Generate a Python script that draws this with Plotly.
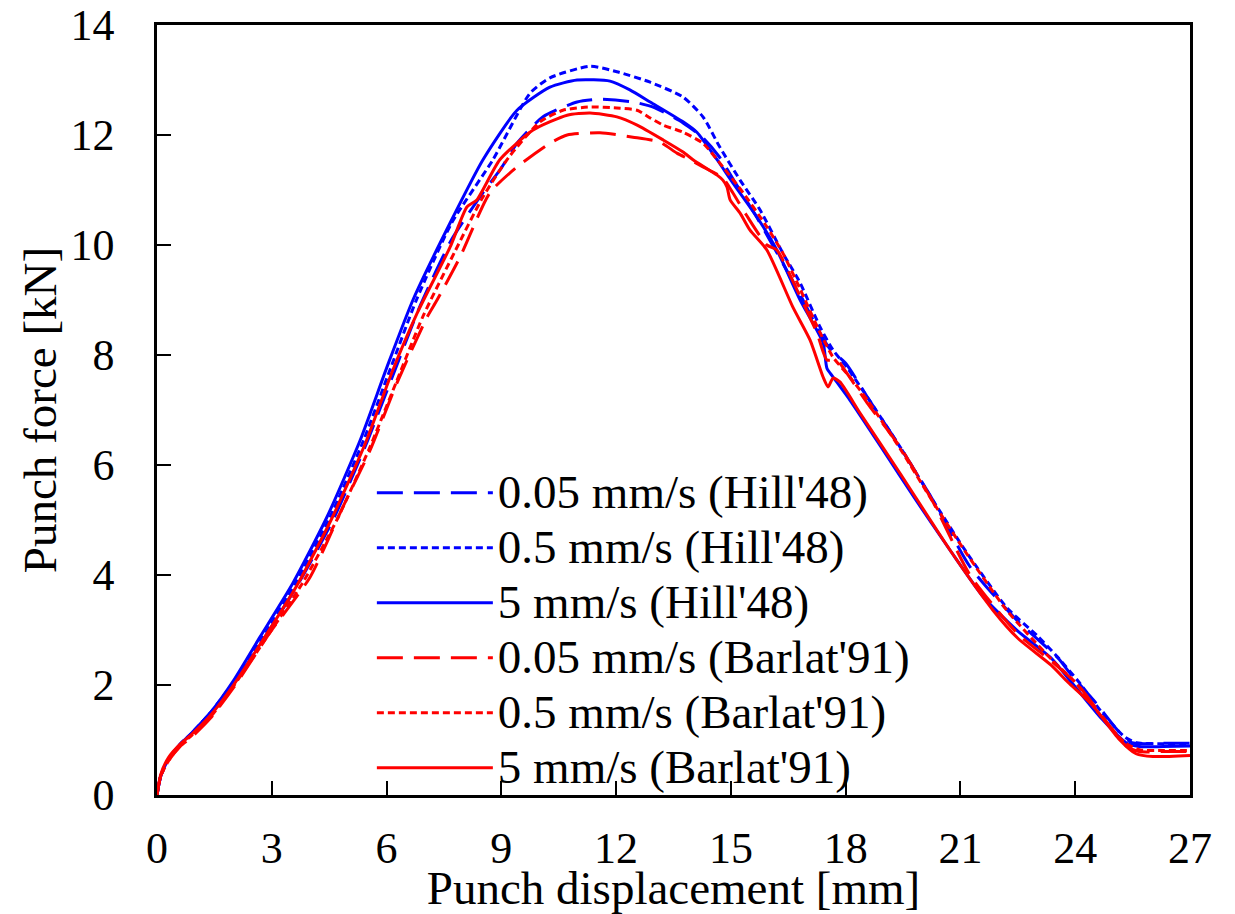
import plotly.graph_objects as go

# ---------------- data ----------------
hill_005_x = [0, 0.1, 0.3, 0.6, 0.9, 1.4, 2.0, 2.8, 3.7, 4.6, 5.45, 6.15, 6.85, 7.7, 8.52, 9.0, 9.41, 10.09, 10.98, 11.58,
              12.44, 13.0, 13.75, 14.27, 14.7, 15.1, 15.68, 16.25, 16.81, 17.33, 17.6, 18.0, 18.6, 19.42, 20.28, 21.25,
              22.5, 23.55, 23.9, 24.52, 25.14, 25.48, 26.3, 27]
hill_005_y = [0, 0.35, 0.65, 0.92, 1.12, 1.5, 2.02, 2.85, 3.85, 5.0, 6.35, 7.6, 8.85, 10.1, 10.95, 11.4, 11.85, 12.33, 12.6, 12.65,
              12.6, 12.5, 12.22, 11.95, 11.6, 11.15, 10.5, 9.8, 9.1, 8.4, 8.1, 7.85, 7.2, 6.33, 5.36, 4.15,
              3.16, 2.49, 2.18, 1.69, 1.15, 0.95, 0.94, 0.94]

hill_05_x = [0, 0.1, 0.3, 0.6, 0.9, 1.4, 2.0, 2.75, 3.62, 4.52, 5.4, 6.1, 6.78, 7.7, 8.78, 9.75, 10.27, 11.32, 12.02, 12.89,
             13.75, 14.27, 14.71, 15.24, 15.76, 16.36, 16.81, 17.33, 17.67, 18.03, 18.56, 19.42, 20.28, 21.17, 22.22,
             23.0, 23.55, 24.1, 24.7, 25.3, 25.6, 26.3, 27]
hill_05_y = [0, 0.35, 0.65, 0.92, 1.12, 1.5, 2.05, 2.85, 3.85, 5.05, 6.45, 7.75, 9.0, 10.4, 11.55, 12.76, 13.04, 13.25, 13.15, 12.96,
             12.69, 12.33, 11.78, 11.18, 10.64, 9.85, 9.31, 8.51, 8.09, 7.78, 7.24, 6.33, 5.36, 4.4, 3.4,
             2.9, 2.5, 2.05, 1.5, 1.05, 0.95, 0.93, 0.93]

hill_5_x = [0, 0.1, 0.3, 0.6, 0.9, 1.4, 2.0, 2.69, 3.55, 4.44, 5.31, 6.01, 6.69, 7.66, 8.52, 9.41, 10.27, 10.98, 11.84, 12.36,
            12.89, 13.75, 14.11, 14.64, 15.05, 15.68, 16.2, 16.81, 17.41, 17.51, 17.67, 18.11, 18.98, 19.8, 20.73, 21.6,
            22.5, 23.37, 23.9, 24.7, 25.33, 25.67, 26.3, 27]
hill_5_y = [0, 0.35, 0.65, 0.92, 1.12, 1.5, 2.08, 2.87, 3.85, 5.05, 6.45, 7.78, 9.0, 10.4, 11.55, 12.45, 12.87, 13.0, 12.98, 12.82,
            12.6, 12.24, 12.05, 11.55, 11.13, 10.51, 9.91, 9.0, 8.22, 7.76, 7.6, 7.18, 6.27, 5.4, 4.45, 3.6,
            2.98, 2.49, 2.05, 1.38, 0.95, 0.88, 0.88, 0.89]

barlat_005_x = [0, 0.1, 0.3, 0.6, 0.9, 1.4, 2.0, 2.95, 4.0, 4.86, 5.57, 6.27, 7.06, 7.32, 7.92, 8.7, 9.41, 10.27, 10.72, 11.58,
                12.44, 13.15, 13.59, 13.93, 14.27, 14.79, 15.05, 15.4, 15.94, 16.2, 16.73, 17.25, 17.51, 17.77, 18.03,
                18.56, 19.42, 20.28, 21.25, 22.5, 23.37, 24.07, 24.7, 25.33, 25.67, 26.3, 27]
barlat_005_y = [0, 0.35, 0.62, 0.88, 1.05, 1.4, 1.95, 2.95, 3.96, 5.24, 6.27, 7.49, 8.69, 9.0, 9.78, 10.95, 11.42, 11.85, 12.0, 12.04,
                11.96, 11.87, 11.67, 11.55, 11.42, 11.22, 10.95, 10.55, 10.0, 9.91, 9.18, 8.4, 7.91, 7.91, 7.67,
                7.13, 6.33, 5.33, 4.0, 2.93, 2.44, 2.0, 1.44, 0.89, 0.79, 0.79, 0.79]

barlat_05_x = [0, 0.1, 0.3, 0.6, 0.9, 1.4, 2.0, 2.85, 3.8, 4.7, 5.55, 6.25, 6.95, 7.8, 8.5, 9.2, 10.01, 10.61, 11.32, 12.02,
               12.55, 12.89, 13.23, 13.75, 14.27, 14.79, 15.32, 15.94, 16.36, 16.81, 17.3, 17.67, 18.11, 18.6, 19.42,
               20.28, 21.17, 22.22, 23.4, 24.0, 24.6, 25.3, 25.7, 26.3, 27]
barlat_05_y = [0, 0.35, 0.62, 0.9, 1.08, 1.42, 1.98, 2.85, 3.85, 5.0, 6.3, 7.5, 8.7, 9.9, 10.85, 11.6, 12.24, 12.45, 12.51, 12.49,
               12.45, 12.31, 12.18, 12.05, 11.85, 11.42, 10.95, 10.33, 9.85, 9.2, 8.45, 7.96, 7.6, 7.15, 6.3,
               5.33, 4.38, 3.35, 2.45, 2.05, 1.5, 0.95, 0.82, 0.81, 0.81]

barlat_5_x = [0, 0.1, 0.3, 0.6, 0.9, 1.4, 2.0, 2.75, 3.65, 4.55, 5.45, 6.15, 6.8, 7.66, 8.1, 8.36, 8.96, 9.83, 10.72, 11.32,
              12.02, 12.55, 13.23, 13.75, 14.01, 14.64, 14.79, 14.9, 14.98, 15.24, 15.5, 15.94, 16.62, 17.07, 17.41,
              17.54, 17.67, 17.85, 18.37, 19.42, 20.73, 21.85, 22.5, 23.37, 23.81, 24.44, 25.14, 25.59, 26.03, 27]
barlat_5_y = [0, 0.38, 0.68, 0.92, 1.1, 1.45, 2.0, 2.8, 3.8, 5.0, 6.4, 7.7, 8.76, 9.96, 10.69, 10.82, 11.55, 12.09, 12.36, 12.4,
              12.33, 12.18, 11.91, 11.69, 11.55, 11.27, 11.18, 11.05, 10.82, 10.58, 10.27, 9.91, 8.87, 8.27, 7.6,
              7.42, 7.58, 7.51, 6.95, 5.85, 4.45, 3.36, 2.85, 2.36, 2.05, 1.64, 1.02, 0.75, 0.7, 0.72]

names = ["0.05 mm/s (Hill'48)", "0.5 mm/s (Hill'48)", "5 mm/s (Hill'48)",
         "0.05 mm/s (Barlat'91)", "0.5 mm/s (Barlat'91)", "5 mm/s (Barlat'91)"]
x_ticks = [0, 3, 6, 9, 12, 15, 18, 21, 24, 27]
y_ticks = [0, 2, 4, 6, 8, 10, 12, 14]

# ---------------- styling ----------------
BLUE = "#0000FF"
RED = "#FF0000"
LONG_DASH = "26px,11px"
SHORT_DASH = "7px,4px"
FONT = "Liberation Serif, Times New Roman, serif"

series = [
    (hill_005_x, hill_005_y, BLUE, LONG_DASH),
    (hill_05_x, hill_05_y, BLUE, SHORT_DASH),
    (hill_5_x, hill_5_y, BLUE, "solid"),
    (barlat_005_x, barlat_005_y, RED, LONG_DASH),
    (barlat_05_x, barlat_05_y, RED, SHORT_DASH),
    (barlat_5_x, barlat_5_y, RED, "solid"),
]

fig = go.Figure()
for (xs, ys, col, dash), nm in zip(series, names):
    fig.add_trace(go.Scatter(
        x=xs, y=ys, mode="lines",
        name='<span style="font-size:47px">' + nm + '</span>',
        line=dict(color=col, width=3, dash=dash, shape="spline", smoothing=0.6)))

fig.update_layout(
    width=1235, height=914,
    margin=dict(l=157, r=45, t=25, b=119, autoexpand=False),
    paper_bgcolor="white", plot_bgcolor="white",
    font=dict(family=FONT, size=44, color="black"),
    showlegend=True,
    legend=dict(x=0.208, y=0.214, xanchor="left", yanchor="middle",
                bgcolor="rgba(0,0,0,0)", borderwidth=0,
                font=dict(family=FONT, size=40, color="black"),
                itemwidth=116, tracegroupgap=0),
)
fig.update_xaxes(
    range=[0, 27], tickvals=x_ticks, ticktext=[str(v) for v in x_ticks],
    showgrid=False, zeroline=False, automargin=False,
    showline=True, linecolor="black", linewidth=2.5, mirror=True,
    ticks="inside", ticklen=14, tickwidth=2, tickcolor="black",
    tickfont=dict(family=FONT, size=44), ticklabelstandoff=12,
    title=dict(text="Punch displacement [mm]", font=dict(family=FONT, size=47), standoff=0),
)
fig.update_yaxes(
    range=[0, 14], tickvals=y_ticks, ticktext=[str(v) for v in y_ticks],
    showgrid=False, zeroline=False, automargin=False,
    showline=True, linecolor="black", linewidth=2.5, mirror=True,
    ticks="inside", ticklen=14, tickwidth=2, tickcolor="black",
    tickfont=dict(family=FONT, size=44), ticklabelstandoff=31,
    title=dict(text="Punch force [kN]", font=dict(family=FONT, size=47), standoff=0),
)

fig.write_html("out.html")
